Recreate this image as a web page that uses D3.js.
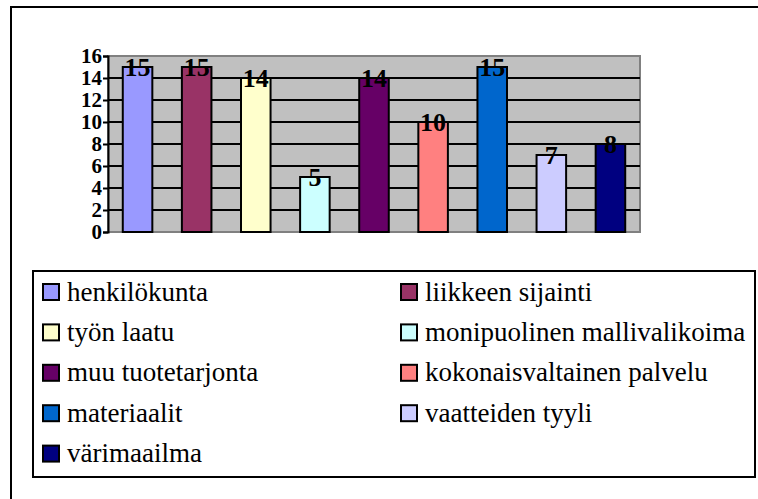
<!DOCTYPE html>
<html>
<head>
<meta charset="utf-8">
<script src="https://cdn.jsdelivr.net/npm/d3@7/dist/d3.min.js"></script>
<style>
  html, body { margin: 0; padding: 0; background: #fff; }
  svg { display: block; }
  svg text { font-family: "Liberation Serif", "Times New Roman", Tinos, "DejaVu Serif", serif; }
</style>
</head>
<body>
<svg id="chart" width="758" height="499"></svg>
<script>
// Survey answers: how many respondents named each factor
const categories = [
  "henkilökunta", "liikkeen sijainti", "työn laatu", "monipuolinen mallivalikoima",
  "muu tuotetarjonta", "kokonaisvaltainen palvelu", "materiaalit", "vaatteiden tyyli", "värimaailma"
];
const values = [15, 15, 14, 5, 14, 10, 15, 7, 8];
const colors = ["#9999FF", "#993366", "#FFFFCC", "#CCFFFF", "#660066", "#FF8080", "#0066CC", "#CCCCFF", "#000080"];
const yTicks = [0, 2, 4, 6, 8, 10, 12, 14, 16];

const svg = d3.select("#chart");

// outer frame (open on the right and bottom)
svg.append("path")
  .attr("d", "M11,499 L11,7 L758,7")
  .attr("fill", "none").attr("stroke", "#000").attr("stroke-width", 2);

const plot = { left: 108, right: 640, top: 56, bottom: 232 };

const x = d3.scaleBand()
  .domain(categories)
  .range([plot.left, plot.right])
  .paddingInner(0.5)
  .paddingOuter(0.25);

const y = d3.scaleLinear().domain([0, 16]).range([plot.bottom, plot.top]);

// plot background
svg.append("rect")
  .attr("x", plot.left).attr("y", plot.top)
  .attr("width", plot.right - plot.left).attr("height", plot.bottom - plot.top)
  .attr("fill", "#C0C0C0").attr("stroke", "#808080").attr("stroke-width", 2);

// horizontal gridlines
svg.append("g").selectAll("line")
  .data(yTicks.filter(t => t > 0 && t < 16))
  .join("line")
  .attr("x1", plot.left).attr("x2", plot.right)
  .attr("y1", d => y(d)).attr("y2", d => y(d))
  .attr("stroke", "#000").attr("stroke-width", 2);

// value axis
const yAxis = d3.axisLeft(y).tickValues(yTicks).tickSize(5).tickPadding(1);
const gy = svg.append("g").attr("transform", `translate(${plot.left},0)`).call(yAxis);
gy.attr("font-family", null);
gy.select(".domain").attr("stroke", "#000").attr("stroke-width", 2);
gy.selectAll(".tick line").attr("stroke", "#000").attr("stroke-width", 2);
gy.selectAll(".tick text")
  .attr("fill", "#000")
  .style("font-weight", "bold")
  .style("font-size", "21px");

// bars
svg.append("g").selectAll("rect")
  .data(values)
  .join("rect")
  .attr("x", (d, i) => x(categories[i]))
  .attr("y", d => y(d))
  .attr("width", x.bandwidth())
  .attr("height", d => y(0) - y(d))
  .attr("fill", (d, i) => colors[i])
  .attr("stroke", "#000").attr("stroke-width", 2);

// value labels centred on bar tops
svg.append("g").selectAll("text")
  .data(values)
  .join("text")
  .attr("x", (d, i) => x(categories[i]) + x.bandwidth() / 2)
  .attr("y", d => y(d) + 9)
  .attr("text-anchor", "middle")
  .style("font-weight", "bold")
  .style("font-size", "26px")
  .text(d => d);

// legend
svg.append("rect")
  .attr("x", 33).attr("y", 271).attr("width", 722).attr("height", 206)
  .attr("fill", "#fff").attr("stroke", "#000").attr("stroke-width", 2);

const colX = [43, 401];
const rowY0 = 292, rowStep = 40.4;
const items = svg.append("g").selectAll("g")
  .data(categories)
  .join("g")
  .attr("transform", (d, i) => `translate(${colX[i % 2]},${rowY0 + Math.floor(i / 2) * rowStep})`);

items.append("rect")
  .attr("x", 0).attr("y", -8).attr("width", 16).attr("height", 16)
  .attr("fill", (d, i) => colors[i])
  .attr("stroke", "#000").attr("stroke-width", 2);

items.append("text")
  .attr("x", 24).attr("y", 8.5)
  .style("font-size", "27px")
  .text(d => d);
</script>
</body>
</html>
